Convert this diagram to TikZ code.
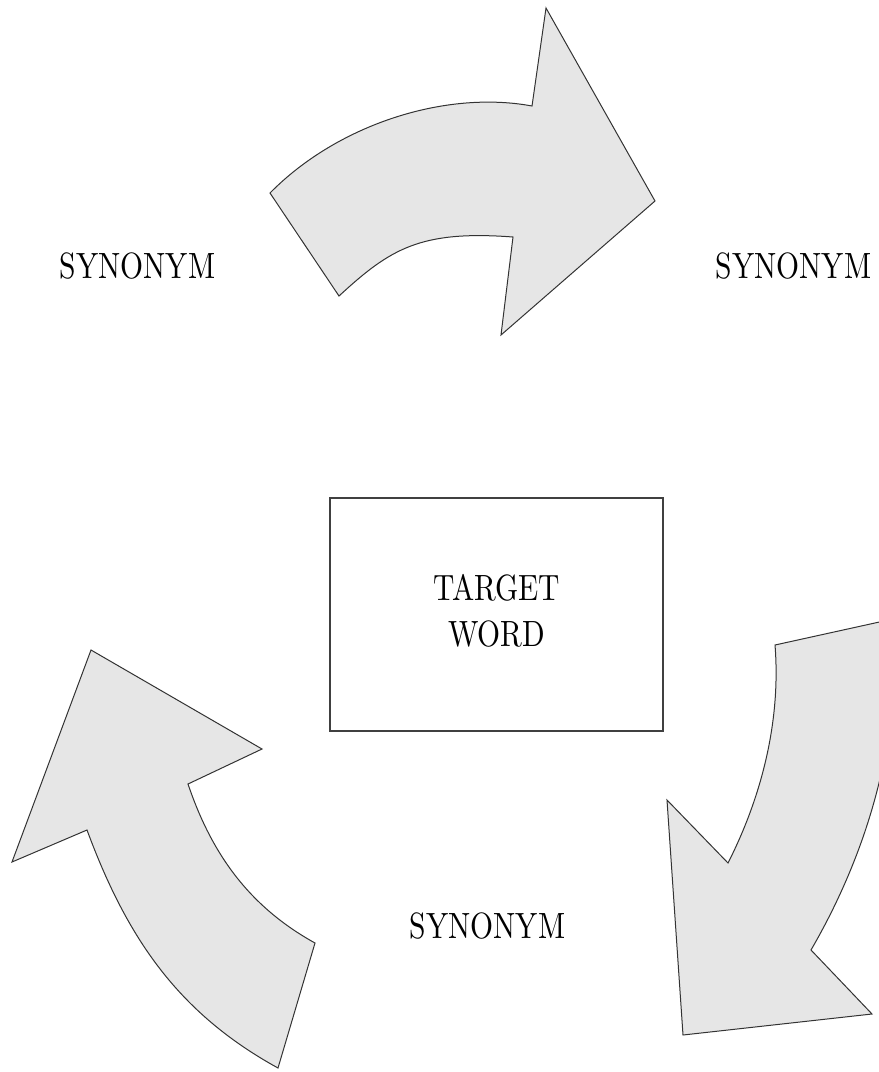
\documentclass[tikz,border=0pt]{standalone}
\usepackage{fontspec}
\usepackage{graphicx}
\setmainfont{lmroman10-regular.otf}

\newcommand{\squeeze}[1]{\scalebox{0.81}[1]{#1}}

\tikzset{every picture/.style={line width=0.75pt}}
\tikzset{
  bentarrow/.style={draw={rgb, 255:red, 51; green, 51; blue, 51}, fill={rgb, 255:red, 230; green, 230; blue, 230}, line width=0.75, line join=miter},
  word/.style={font=\fontsize{27.4}{34.5}\selectfont, inner sep=0.75pt},
  wordbox/.style={word, draw={rgb, 255:red, 64; green, 64; blue, 64}, line width=1, minimum width=249.75pt, minimum height=174.75pt},
}

\begin{document}
\begin{tikzpicture}[x=0.75pt,y=0.75pt,yscale=-1,xscale=1]
\useasboundingbox (0,0) rectangle (879,1072);

%Shape: Bent Arrow [id:top]
\draw [bentarrow] (270,193) .. controls (338,124) and (446,90) .. (532,106) -- (546,8) -- (655,201) -- (501,335) -- (513,237) .. controls (420,230) and (390,249) .. (339,296) -- cycle ;

%Shape: Bent Arrow [id:right]
\begin{scope}
\clip (0,0) rectangle (879,1072);
\draw [bentarrow] (775,645) -- (893,619) .. controls (902,735) and (869,850) .. (811,950) -- (872,1014) -- (683,1035) -- (667,800) -- (728,863) .. controls (762,796) and (781,720) .. (775,645) -- cycle ;
\end{scope}

%Shape: Bent Arrow [id:left]
\draw [bentarrow] (91,650) -- (262,749) -- (188,784) .. controls (212,855) and (250,907) .. (315,943) -- (278,1068) .. controls (178,1013) and (127,938) .. (87,830) -- (12,862) -- cycle ;

% Text Node
\draw (496.5,614.5) node (target) [wordbox] {\squeeze{\begin{tabular}{@{}c@{}}TARGET\\WORD\end{tabular}}};
% Text Node
\draw (137.5,266.5) node (synleft) [word] {\squeeze{SYNONYM}};
% Text Node
\draw (793.5,266.5) node (synright) [word] {\squeeze{SYNONYM}};
% Text Node
\draw (487.5,926.5) node (synbottom) [word] {\squeeze{SYNONYM}};

\end{tikzpicture}
\end{document}
